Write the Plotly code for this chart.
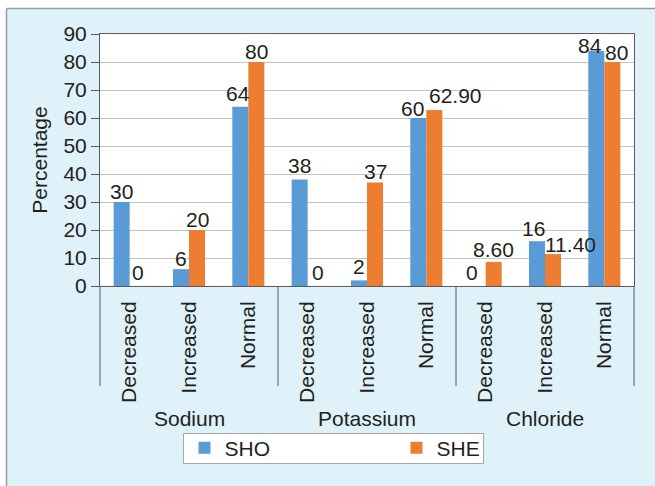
import plotly.graph_objects as go

# Serum electrolyte status by group
groups = ["Sodium", "Potassium", "Chloride"]
levels = ["Decreased", "Increased", "Normal"]
series_names = ["SHO", "SHE"]
sho = [30, 6, 64, 38, 2, 60, 0, 16, 84]
she = [0, 20, 80, 0, 37, 62.9, 8.6, 11.4, 80]
y_ticks = [0, 10, 20, 30, 40, 50, 60, 70, 80, 90]

colors = ["#5B9BD5", "#ED7D31"]
ink = "#231F20"
axis_col = "#5A5A5A"
font_family = "Liberation Sans, Arial, sans-serif"
fs = 21

W, H = 655, 486
L, R, T, B = 100, 21, 34, 200
PW, PH = W - L - R, H - T - B
bargap = 0.46

# pixel nudges for value labels that sit beside their neighbours
label_nudge = {
    ("Sodium", "Decreased", 1): (0, 3),
    ("Sodium", "Normal", 0): (-2, 3),
    ("Potassium", "Decreased", 0): (0, 4),
    ("Potassium", "Decreased", 1): (2, 3),
    ("Potassium", "Increased", 0): (0, 3),
    ("Potassium", "Normal", 0): (-6, -1),
    ("Potassium", "Normal", 1): (21, 4),
    ("Chloride", "Decreased", 0): (-6, 3),
    ("Chloride", "Decreased", 1): (0, 2),
    ("Chloride", "Increased", 0): (-3, 2),
    ("Chloride", "Increased", 1): (17, -1),
    ("Chloride", "Normal", 0): (-6, -5),
    ("Chloride", "Normal", 1): (4, -1),
}


def px_x(px):
    return (px - L) / PW


def px_y(py):
    return (H - B - py) / PH


def fmt(v):
    return f"{v:.2f}" if v % 1 else f"{v:.0f}"


n_cat = len(groups) * len(levels)
xpos = list(range(n_cat))
ticktext = [lv for _ in groups for lv in levels]
cat_keys = [(g, lv) for g in groups for lv in levels]

fig = go.Figure()
series = [sho, she]
for k, (name, vals, col) in enumerate(zip(series_names, series, colors)):
    fig.add_trace(go.Bar(
        x=xpos, y=vals, name=name,
        marker=dict(color=col, line=dict(width=0)),
        legend="legend" if k == 0 else "legend2",
        hoverinfo="x+y+name",
    ))

# value labels above each bar
bar_w = (1 - bargap) / len(series)
annotations = []
for k, vals in enumerate(series):
    offset = (k - (len(series) - 1) / 2) * bar_w
    for i, v in enumerate(vals):
        dx, dy = label_nudge.get((*cat_keys[i], k), (0, 0))
        annotations.append(dict(
            x=xpos[i] + offset, xref="x", y=v, yref="y",
            text=fmt(v), showarrow=False,
            xanchor="center", yanchor="bottom",
            xshift=dx, yshift=dy - 3,
            font=dict(family=font_family, size=fs, color=ink)))

# group names under the rotated category labels
for i, g in enumerate(groups):
    annotations.append(dict(
        x=i * len(levels) + (len(levels) - 1) / 2, xref="x",
        y=px_y(418), yref="paper", text=g, showarrow=False,
        font=dict(family=font_family, size=fs, color=ink),
        xanchor="center", yanchor="middle"))

shapes = []
# group dividers below the category axis
for g in range(len(groups) + 1):
    xp = g * len(levels) / n_cat
    shapes.append(dict(type="line", xref="paper", yref="paper",
                       x0=xp, x1=xp, y0=0, y1=px_y(386),
                       line=dict(color=axis_col, width=1)))
# outer frame: white strips and grey edge at top/left
shapes.append(dict(type="rect", xref="paper", yref="paper", layer="below",
                   x0=px_x(-5), x1=px_x(W + 5), y0=px_y(-5), y1=px_y(8),
                   fillcolor="white", line=dict(width=0)))
shapes.append(dict(type="rect", xref="paper", yref="paper", layer="below",
                   x0=px_x(-5), x1=px_x(6), y0=px_y(-5), y1=px_y(H + 5),
                   fillcolor="white", line=dict(width=0)))
shapes.append(dict(type="line", xref="paper", yref="paper",
                   x0=px_x(6.5), x1=px_x(W + 5), y0=px_y(8.5), y1=px_y(8.5),
                   line=dict(color="#9A9A9A", width=1.5)))
shapes.append(dict(type="line", xref="paper", yref="paper",
                   x0=px_x(6.5), x1=px_x(6.5), y0=px_y(8.5), y1=px_y(H + 5),
                   line=dict(color="#9A9A9A", width=1.5)))
# legend frame
shapes.append(dict(type="rect", xref="paper", yref="paper", layer="below",
                   x0=px_x(183.5), x1=px_x(483.5), y0=px_y(433.5), y1=px_y(463.5),
                   fillcolor="white", line=dict(color="#A6A6A6", width=1)))

legend_style = dict(
    orientation="h", yanchor="middle", xanchor="left",
    y=px_y(448), bgcolor="rgba(0,0,0,0)", borderwidth=0,
    font=dict(family=font_family, size=fs, color=ink),
)

fig.update_layout(
    width=W, height=H,
    margin=dict(l=L, r=R, t=T, b=B),
    paper_bgcolor="#DFF1F9",
    plot_bgcolor="white",
    barmode="group", bargap=bargap, bargroupgap=0,
    font=dict(family=font_family, size=fs, color=ink),
    shapes=shapes, annotations=annotations,
    showlegend=True,
    legend=dict(x=px_x(184.5), **legend_style),
    legend2=dict(x=px_x(396.5), **legend_style),
    xaxis=dict(
        range=[-0.5, n_cat - 0.5],
        tickmode="array", tickvals=xpos, ticktext=ticktext,
        tickangle=-90, ticks="", showgrid=False, zeroline=False,
        showline=True, linecolor=axis_col, linewidth=1, mirror=True,
        tickfont=dict(family=font_family, size=fs, color=ink),
        ticklabelstandoff=6,
    ),
    yaxis=dict(
        range=[0, 90], tickvals=y_ticks,
        ticks="outside", ticklen=8, tickcolor=axis_col,
        showgrid=True, gridcolor="#C4C4C4", gridwidth=1,
        zeroline=False,
        showline=True, linecolor=axis_col, linewidth=1, mirror=True,
        tickfont=dict(family=font_family, size=fs, color=ink),
        title=dict(text="Percentage", standoff=10,
                   font=dict(family=font_family, size=fs, color=ink)),
    ),
)

fig.write_html("out.html")
